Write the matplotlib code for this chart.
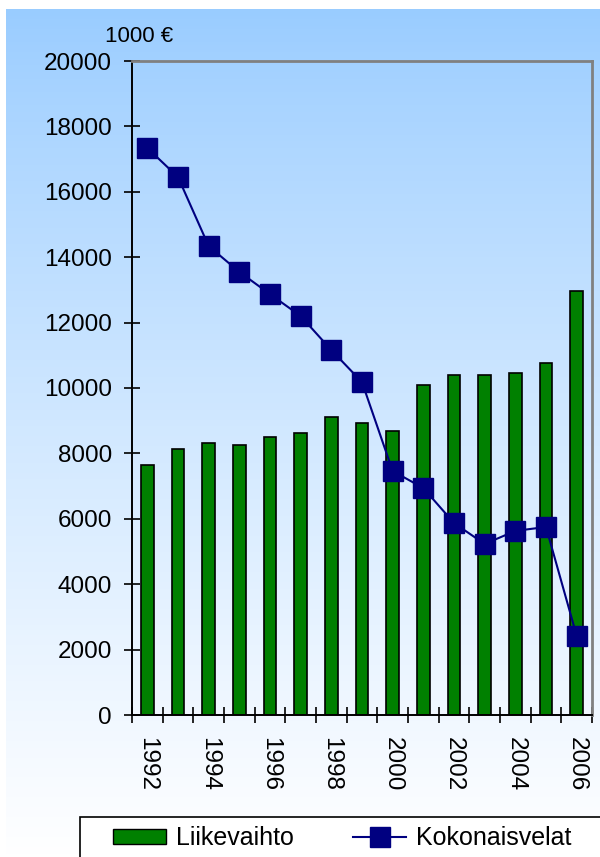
import numpy as np
import matplotlib
matplotlib.use("Agg")
import matplotlib.pyplot as plt
from matplotlib.patches import Patch, Rectangle
from matplotlib.lines import Line2D

plt.rcParams['font.family'] = ['Liberation Sans', 'DejaVu Sans']

years = list(range(1992, 2007))
liikevaihto = [7650, 8130, 8320, 8260, 8500, 8620, 9110, 8930, 8680,
               10090, 10400, 10400, 10460, 10760, 12970]
kokonaisvelat = [17340, 16450, 14340, 13550, 12870, 12200, 11160, 10180,
                 7460, 6940, 5870, 5230, 5630, 5750, 2420]

fig = plt.figure(figsize=(6, 8.57), dpi=100)

# gradient background panel
bg = fig.add_axes([6 / 600, 0, 1, 1 - 9 / 857], zorder=-5)
top = np.array([153, 204, 255]) / 255
bot = np.array([255, 255, 255]) / 255
t = np.linspace(0, 1, 256)[:, None] ** 0.85
grad = (top[None, :] * (1 - t) + bot[None, :] * t)[:, None, :]
bg.imshow(grad, aspect='auto', extent=[0, 1, 0, 1])
bg.axis('off')

ax = fig.add_axes([132 / 600, 1 - 715 / 857, 460 / 600, 654 / 857])
ax.set_facecolor('none')
x = np.arange(len(years))
ax.bar(x, liikevaihto, width=0.42, color='#008000', edgecolor='black',
       linewidth=1.2, zorder=2)
ax.plot(x, kokonaisvelat, color='#000080', linewidth=1.5, marker='s',
        markersize=14, markerfacecolor='#000080', markeredgecolor='#000080',
        zorder=3)

ax.set_xlim(-0.5, len(years) - 0.5)
ax.set_ylim(0, 20000)
ax.set_yticks(range(0, 20001, 2000))
ax.tick_params(axis='y', direction='inout', length=11, width=1.2,
               labelsize=17.5, pad=9)

ax.set_xticks(x[::2])
ax.set_xticklabels([str(y) for y in years[::2]], rotation=270, fontsize=17.5)
ax.set_xticks(np.arange(-0.5, len(years)), minor=True)
ax.tick_params(axis='x', which='major', length=0, pad=16)
ax.tick_params(axis='x', which='minor', direction='inout', length=11, width=1.2)

for s in ['left', 'bottom']:
    ax.spines[s].set_color('black')
    ax.spines[s].set_linewidth(1.4)
for s in ['top', 'right']:
    ax.spines[s].set_color('#808080')
    ax.spines[s].set_linewidth(2)

fig.text(105 / 600, 1 - 36 / 857, '1000 €', fontsize=16, va='center')

# legend box running off the right and bottom edges
fig.patches.append(Rectangle((80 / 600, -0.01), 1.0, 1 - 817 / 857 + 0.01,
                             transform=fig.transFigure, facecolor='white',
                             edgecolor='black', linewidth=1.2, zorder=1))

handles = [Patch(facecolor='#008000', edgecolor='black', label='Liikevaihto'),
           Line2D([], [], color='#000080', marker='s', markersize=14,
                  linewidth=1.5, label='Kokonaisvelat')]
leg = fig.legend(handles=handles, loc='center left', ncol=2,
                 bbox_to_anchor=(113 / 600, 1 - 838 / 857), fontsize=18,
                 frameon=False, borderaxespad=0, borderpad=0,
                 handlelength=2.1, handleheight=0.55, handletextpad=0.4,
                 columnspacing=2.4)
leg.set_zorder(2)

fig.savefig('out.png', dpi=100)
